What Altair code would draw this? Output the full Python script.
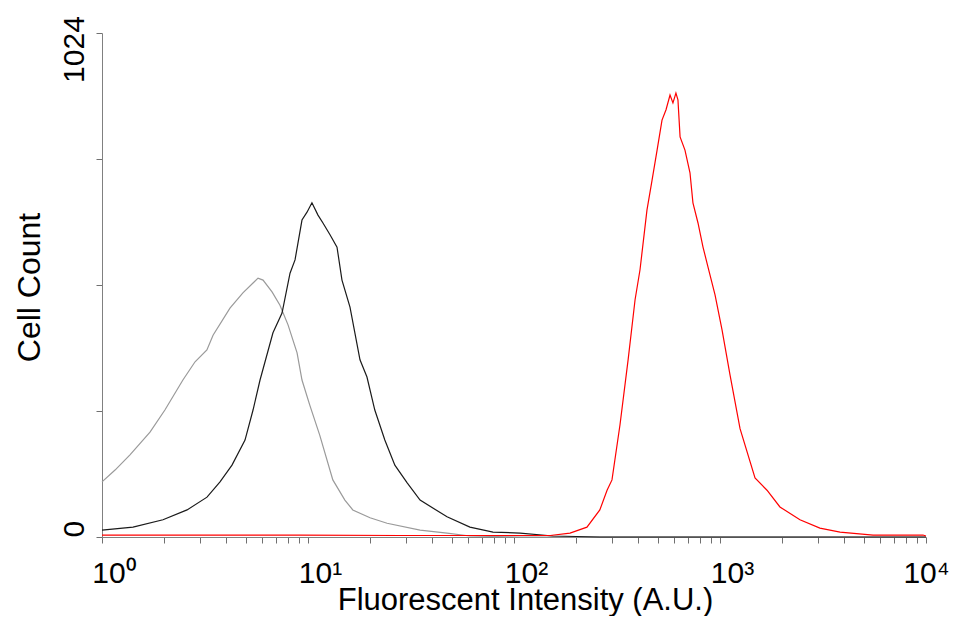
import altair as alt
import pandas as pd

# ---- data (intensity in A.U., cell count) ----
gray_x = [1.00, 1.157, 1.367, 1.71, 2.02, 2.47, 2.83, 3.23, 3.46, 4.18, 4.83, 5.41, 5.72, 6.05, 6.69,
          7.31, 8.0, 8.85, 9.35, 10.2, 11.4, 13.2, 15.1, 16.5, 20.0, 24.2, 35.0, 47.3, 61.1, 107, 10000]
gray_y = [112, 136, 167, 213, 258, 319, 356, 380, 410, 465, 496, 516, 526, 522, 498,
          471, 431, 374, 319, 268, 207, 116, 75, 55, 39, 28, 14, 8, 2, 0, 0]

black_x = [1.0, 1.414, 1.977, 2.587, 3.234, 3.74, 4.276, 4.946, 5.41, 5.85, 6.76, 7.48, 8.18, 8.65,
           9.35, 9.89, 10.45, 11.18, 11.82, 12.79, 13.83, 14.62, 15.99, 17.88, 19.33, 21.1, 23.6,
           26.4, 30.3, 35.0, 47.3, 61.1, 79.1, 107, 154.6, 261, 10000]
black_y = [14, 20, 35, 55, 81, 112, 146, 197, 258, 319, 415, 455, 536, 563,
           644, 660, 679, 654, 638, 614, 589, 522, 467, 360, 325, 258, 197,
           146, 110, 75, 41, 20, 10, 8, 2, 0, 0]

red_x = [1.0, 9.15, 28, 150, 187, 226, 261, 283, 299, 327, 358, 387, 409, 442, 468, 495, 523, 547,
         572, 591, 611, 625, 640, 676, 715, 739, 782, 827, 874, 946, 1023, 1119, 1251, 1479, 1691,
         1954, 2444, 3055, 3826, 5535, 9670, 10000]
red_y = [4, 4, 3, 3, 8, 20, 55, 95, 116, 228, 360, 482, 543, 664, 725, 786, 847, 868,
         898, 882, 902, 888, 813, 786, 740, 679, 638, 589, 549, 492, 421, 329, 220, 120, 95,
         61, 35, 18, 10, 4, 4, 2]

x_ticks = [m * 10 ** k for k in range(4) for m in range(1, 10)] + [10000]
x_labels = {1: "10⁰", 10: "10¹", 100: "10²", 1000: "10³", 10000: "10⁴"}
y_ticks = [0, 256, 512, 768, 1024]

FONT = "Liberation Sans"


def frame(xs, ys):
    return pd.DataFrame({"intensity": xs, "count": ys})


x_label_expr = " : ".join(
    f"datum.value == {v} ? '{t}'" for v, t in x_labels.items()
) + " : ''"

x_enc = alt.X(
    "intensity:Q",
    scale=alt.Scale(type="log", domain=[1, 10000], nice=False),
    axis=alt.Axis(
        values=x_ticks,
        labelExpr=x_label_expr,
        labelFont=FONT,
        labelFontSize=30,
        labelColor="black",
        labelFlush=False,
        labelOverlap=False,
        labelAlign="center",
        labelBaseline="alphabetic",
        labelPadding=39,
        labelOffset={"condition": {"test": "datum.value == 10000", "value": 0}, "value": 12},
        tickSize=6,
        tickColor="#707070",
        domainColor="#808080",
        grid=False,
        title="Fluorescent Intensity (A.U.)",
        titleFont=FONT,
        titleFontSize=31,
        titleFontWeight="normal",
        titleColor="black",
        titleX=423,
        titleY=72,
        titleBaseline="alphabetic",
        titleAlign="center",
    ),
)

y_enc = alt.Y(
    "count:Q",
    scale=alt.Scale(domain=[0, 1024], nice=False),
    axis=alt.Axis(
        values=y_ticks,
        format="d",
        labelExpr="datum.value == 0 || datum.value == 1024 ? datum.label : ''",
        labelFont=FONT,
        labelFontSize=30,
        labelColor="black",
        labelAngle=-90,
        labelAlign={"condition": {"test": "datum.value == 1024", "value": "center"}, "value": "left"},
        labelOffset={"condition": {"test": "datum.value == 1024", "value": 16}, "value": 0},
        labelBaseline="alphabetic",
        labelPadding=13,
        labelFlush=False,
        labelOverlap=False,
        tickSize=6,
        tickColor="#707070",
        domainColor="#808080",
        grid=False,
        title="Cell Count",
        titleFont=FONT,
        titleFontSize=32,
        titleFontWeight="normal",
        titleColor="black",
        titleAngle=-90,
        titleX=-63,
        titleY=254,
        titleBaseline="alphabetic",
        titleAlign="center",
    ),
)

gray = alt.Chart(frame(gray_x, gray_y)).mark_line(color="#9a9a9a", strokeWidth=1.2).encode(x=x_enc, y=y_enc)
black = alt.Chart(frame(black_x, black_y)).mark_line(color="#1a1a1a", strokeWidth=1.2).encode(x=x_enc, y=y_enc)
red = alt.Chart(frame(red_x, red_y)).mark_line(color="#ff0000", strokeWidth=1.2).encode(x=x_enc, y=y_enc)

chart = (
    alt.layer(gray, black, red)
    .properties(
        width=824,
        height=504,
        autosize=alt.AutoSizeParams(type="none"),
        padding={"left": 94, "top": 25, "right": 25, "bottom": 79},
    )
    .configure(font=FONT, background="white", view=alt.ViewConfig(stroke=None))
)

chart.save("out.html", embed_options={"renderer": "svg", "actions": False})
